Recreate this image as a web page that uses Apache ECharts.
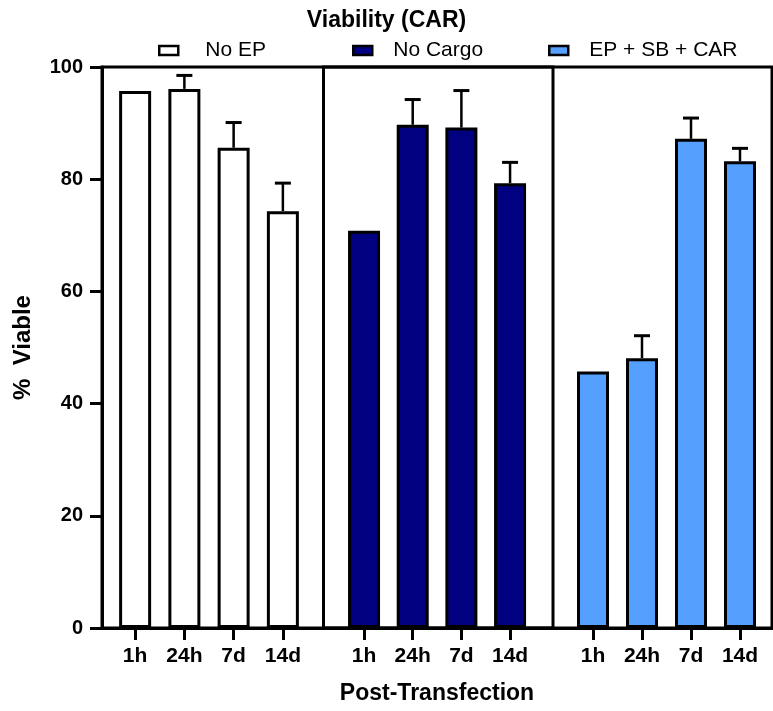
<!DOCTYPE html>
<html>
<head>
<meta charset="utf-8">
<script src="https://cdn.jsdelivr.net/npm/echarts@6/dist/echarts.min.js"></script>
<style>html,body{margin:0;padding:0;background:#fff}#c{width:773px;height:711px}</style>
</head>
<body>
<div id="c"></div>
<script>
// ---- data ----
const times = ['1h', '24h', '7d', '14d'];
const groupNames = ['No EP', 'No Cargo', 'EP + SB + CAR'];
const noEP = [95.7, 96.1, 85.6, 74.3];
const noEPErr = [0, 2.4, 4.5, 5.0];
const noCargo = [70.8, 89.7, 89.2, 79.3];
const noCargoErr = [0, 4.5, 6.6, 3.7];
const epSbCar = [45.7, 48.1, 87.2, 83.2];
const epSbCarErr = [0, 4.0, 3.7, 2.3];
const yTicks = [0, 20, 40, 60, 80, 100];

// ---- styles ----
const FONT = "'Liberation Sans',Arial,Helvetica,sans-serif";
const colors = ['#ffffff', '#000080', '#559fff'];
const values = [noEP, noCargo, epSbCar];
const errs = [noEPErr, noCargoErr, epSbCarErr];
const TOP = 67, BOTTOM = 83;
const barGrids = [
  { left: 110.5, width: 197 },
  { left: 339.7, width: 194.7 },
  { left: 568.5, width: 196 }
];

const chart = echarts.init(document.getElementById('c'), null, { renderer: 'canvas' });

const grid = [
  { left: 102, right: 1, top: TOP, bottom: BOTTOM, show: true, borderColor: '#000', borderWidth: 3, backgroundColor: 'transparent' },
  { left: 323.5, right: 220, top: TOP, bottom: BOTTOM, show: true, borderColor: '#000', borderWidth: 3, backgroundColor: 'transparent' }
];
barGrids.forEach(g => grid.push({ left: g.left, width: g.width, top: TOP, bottom: BOTTOM }));

const xAxis = [
  {
    gridIndex: 0, type: 'value', min: 0, max: 1,
    axisLine: { show: true, lineStyle: { color: '#000', width: 3 } },
    axisTick: { show: false }, axisLabel: { show: false }, splitLine: { show: false },
    name: 'Post-Transfection', nameLocation: 'middle', nameGap: 54,
    nameTextStyle: { fontFamily: FONT, fontWeight: 'bold', fontSize: 23, color: '#000' }
  },
  { gridIndex: 1, type: 'value', min: 0, max: 1, show: false }
];
const yAxis = [
  {
    gridIndex: 0, type: 'value', min: 0, max: 100, interval: 20,
    axisLine: { show: true, lineStyle: { color: '#000', width: 3 } },
    axisTick: { show: true, inside: false, length: 12, lineStyle: { color: '#000', width: 3 } },
    axisLabel: { fontFamily: FONT, fontWeight: 'bold', fontSize: 20, color: '#000', margin: 19,
      formatter: v => yTicks.includes(v) ? String(v) : '' },
    splitLine: { show: false },
    name: '%  Viable', nameLocation: 'middle', nameGap: 67, nameRotate: 90,
    nameTextStyle: { fontFamily: FONT, fontWeight: 'bold', fontSize: 24, color: '#000' }
  },
  { gridIndex: 1, type: 'value', min: 0, max: 1, show: false }
];

const series = [];
groupNames.forEach((name, gi) => {
  const idx = gi + 2;
  xAxis.push({
    gridIndex: idx, type: 'category', data: times,
    axisLine: { show: false },
    axisTick: { show: true, alignWithLabel: true, length: 12, lineStyle: { color: '#000', width: 3 } },
    axisLabel: { fontFamily: FONT, fontWeight: 'bold', fontSize: 21, color: '#000', margin: 18, interval: 0 },
    splitLine: { show: false }
  });
  yAxis.push({ gridIndex: idx, type: 'value', min: 0, max: 100, show: false });
  series.push({
    name: name, type: 'bar', xAxisIndex: idx, yAxisIndex: idx,
    data: values[gi], barWidth: 32,
    itemStyle: { color: colors[gi], borderColor: '#000', borderWidth: 3 },
    emphasis: { disabled: true }, z: 2
  });
  series.push({
    name: name + ' err', type: 'custom', xAxisIndex: idx, yAxisIndex: idx,
    data: times.map((t, i) => [i, values[gi][i], errs[gi][i]]),
    z: 3,
    renderItem: function (params, api) {
      const x = api.value(0), y = api.value(1), e = api.value(2);
      if (!e) return null;
      const base = api.coord([x, y]);
      const top = api.coord([x, y + e]);
      const hw = 8;
      return {
        type: 'group', children: [
          { type: 'line', shape: { x1: base[0], y1: base[1], x2: top[0], y2: top[1] }, style: { stroke: '#000', lineWidth: 2.5 } },
          { type: 'line', shape: { x1: top[0] - hw, y1: top[1], x2: top[0] + hw, y2: top[1] }, style: { stroke: '#000', lineWidth: 3 } }
        ]
      };
    }
  });
});

const legendPos = [
  { left: 153, pad: 22 },
  { left: 347, pad: 16 },
  { left: 543, pad: 16 }
];
const legend = groupNames.map((n, i) => ({
  data: [{ name: n, icon: 'rect' }], left: legendPos[i].left, top: 35,
  itemWidth: 19, itemHeight: 9, selectedMode: false,
  itemStyle: { borderColor: '#000', borderWidth: 2.5 },
  textStyle: { fontFamily: FONT, fontSize: 21, color: '#000', padding: [0, 0, 0, legendPos[i].pad] }
}));

chart.setOption({
  backgroundColor: '#fff',
  animation: false,
  title: {
    text: 'Viability (CAR)', left: 'center', top: 4,
    textStyle: { fontFamily: FONT, fontWeight: 'bold', fontSize: 23, color: '#000' }
  },
  legend: legend,
  grid: grid,
  xAxis: xAxis,
  yAxis: yAxis,
  series: series
});
</script>
</body>
</html>
